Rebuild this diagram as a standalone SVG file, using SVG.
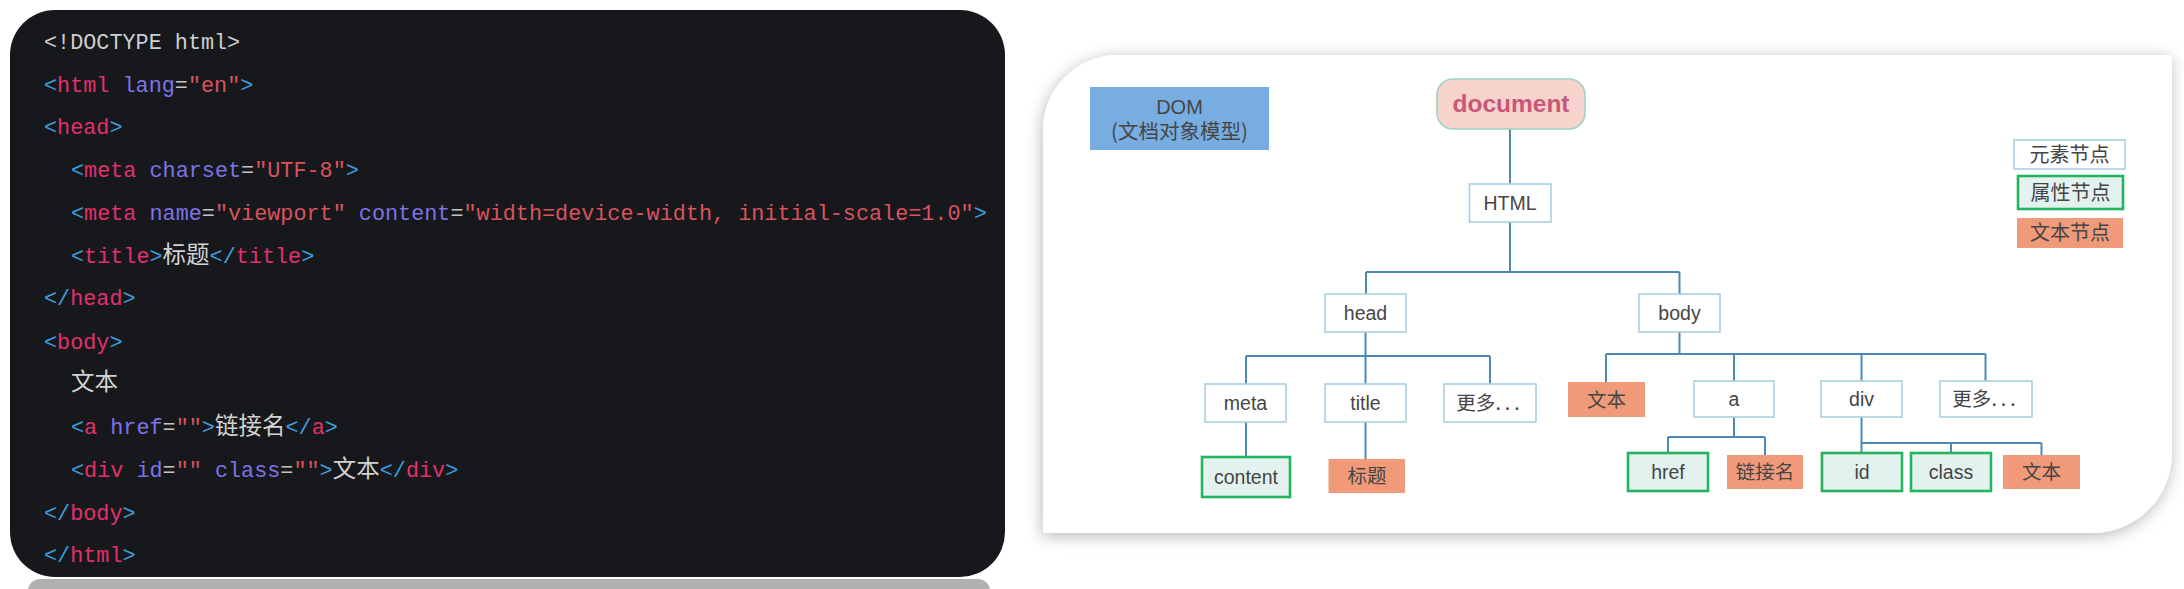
<svg xmlns="http://www.w3.org/2000/svg" width="2184" height="589" viewBox="0 0 2184 589">
<defs>
<style>
.code{font-family:"Liberation Mono","DejaVu Sans Mono",monospace;font-size:21.8px;fill:#cfcfcf}
.b{fill:#3c9ddd}.t{fill:#e2306c}.a{fill:#7c73e6}.e{fill:#c4c4c4}.s{fill:#d9535f}.g{fill:#cfcfcf}
.z{font-family:"Noto Sans CJK SC","Noto Sans",sans-serif;font-size:23.5px;fill:#d2d2d2}
.lbl{font-family:"Liberation Sans","Noto Sans CJK SC",sans-serif;font-size:19.5px;fill:#454545;text-anchor:middle}
.cjk{font-family:"Noto Sans CJK SC","Liberation Sans",sans-serif;font-size:19.5px;fill:#454545;text-anchor:middle}
.el{fill:#ffffff;stroke:#a9d0df;stroke-width:1.6}
.at{fill:#e4f2ef;stroke:#22b45e;stroke-width:2.6}
.tx{fill:#f19a7a}
.conn{fill:none;stroke:#4d88b5;stroke-width:2}
</style>
<filter id="sh" x="-5%" y="-10%" width="110%" height="125%">
<feDropShadow dx="-1" dy="3" stdDeviation="8" flood-color="#000" flood-opacity="0.28"/>
</filter>
</defs>
<rect width="2184" height="589" fill="#ffffff"/>

<g id="code-panel">
<rect x="28" y="579" width="962" height="24" rx="12" fill="#b0b0b0"/>
<rect x="10" y="10" width="995" height="567" rx="45" fill="#17181b"/>
<text class="code" x="44" y="49"><tspan class="g">&lt;!DOCTYPE html&gt;</tspan></text>
<text class="code" x="44" y="91.5"><tspan class="b">&lt;</tspan><tspan class="t">html</tspan><tspan class="a"> lang</tspan><tspan class="e">=</tspan><tspan class="s">"en"</tspan><tspan class="b">&gt;</tspan></text>
<text class="code" x="44" y="134"><tspan class="b">&lt;</tspan><tspan class="t">head</tspan><tspan class="b">&gt;</tspan></text>
<text class="code" x="71" y="177"><tspan class="b">&lt;</tspan><tspan class="t">meta</tspan><tspan class="a"> charset</tspan><tspan class="e">=</tspan><tspan class="s">"UTF-8"</tspan><tspan class="b">&gt;</tspan></text>
<text class="code" x="71" y="220"><tspan class="b">&lt;</tspan><tspan class="t">meta</tspan><tspan class="a"> name</tspan><tspan class="e">=</tspan><tspan class="s">"viewport"</tspan><tspan class="a"> content</tspan><tspan class="e">=</tspan><tspan class="s">"width=device-width, initial-scale=1.0"</tspan><tspan class="b">&gt;</tspan></text>
<text class="code" x="71" y="262.5"><tspan class="b">&lt;</tspan><tspan class="t">title</tspan><tspan class="b">&gt;</tspan><tspan class="z">标题</tspan><tspan class="b">&lt;/</tspan><tspan class="t">title</tspan><tspan class="b">&gt;</tspan></text>
<text class="code" x="44" y="305"><tspan class="b">&lt;/</tspan><tspan class="t">head</tspan><tspan class="b">&gt;</tspan></text>
<text class="code" x="44" y="349"><tspan class="b">&lt;</tspan><tspan class="t">body</tspan><tspan class="b">&gt;</tspan></text>
<text class="code" x="71" y="390"><tspan class="z">文本</tspan></text>
<text class="code" x="71" y="434"><tspan class="b">&lt;</tspan><tspan class="t">a</tspan><tspan class="a"> href</tspan><tspan class="e">=</tspan><tspan class="s">""</tspan><tspan class="b">&gt;</tspan><tspan class="z">链接名</tspan><tspan class="b">&lt;/</tspan><tspan class="t">a</tspan><tspan class="b">&gt;</tspan></text>
<text class="code" x="71" y="477"><tspan class="b">&lt;</tspan><tspan class="t">div</tspan><tspan class="a"> id</tspan><tspan class="e">=</tspan><tspan class="s">""</tspan><tspan class="a"> class</tspan><tspan class="e">=</tspan><tspan class="s">""</tspan><tspan class="b">&gt;</tspan><tspan class="z">文本</tspan><tspan class="b">&lt;/</tspan><tspan class="t">div</tspan><tspan class="b">&gt;</tspan></text>
<text class="code" x="44" y="520"><tspan class="b">&lt;/</tspan><tspan class="t">body</tspan><tspan class="b">&gt;</tspan></text>
<text class="code" x="44" y="562"><tspan class="b">&lt;/</tspan><tspan class="t">html</tspan><tspan class="b">&gt;</tspan></text>
</g>

<g id="dom-panel">
<path d="M1118,55 H2172 V453 A80,80 0 0 1 2092,533 H1043 V130 A75,75 0 0 1 1118,55 Z" fill="#ffffff" filter="url(#sh)"/>
</g>

<g id="connectors">
<path class="conn" d="M1510,129 V184 M1510,222 V272 M1366,272 H1679.5 M1366,272 V294 M1679.5,272 V294"/>
<path class="conn" d="M1365.5,332 V384 M1246,356 H1490 M1246,356 V384 M1490,356 V384 M1246,422 V457 M1365.5,422 V459"/>
<path class="conn" d="M1679.5,332 V354 M1606,354 H1985.5 M1606,354 V382 M1734,354 V381 M1861.5,354 V381 M1985.5,354 V381"/>
<path class="conn" d="M1734,417 V437 M1668,437 H1765 M1668,437 V453 M1765,437 V455"/>
<path class="conn" d="M1861.5,417 V453 M1861.5,443 H2041.5 M1951,443 V453 M2041.5,443 V455"/>
</g>

<g id="dom-label">
<rect x="1090" y="87" width="179" height="63" fill="#78ade2"/>
<text class="lbl" x="1179.5" y="114" style="font-size:20px">DOM</text>
<text class="cjk" x="1179.5" y="139" style="font-size:20.5px">(文档对象模型)</text>
</g>

<g id="node-document">
<rect x="1437" y="79" width="148" height="50" rx="16" fill="#f6d3cc" stroke="#9fd4c0" stroke-width="1.6"/>
<text x="1511" y="112" style="font-family:'Liberation Sans',sans-serif;font-size:24.5px;font-weight:bold;fill:#c9577a;text-anchor:middle">document</text>
</g>

<g id="node-html"><rect class="el" x="1469.5" y="184" width="81.5" height="38"/><text class="lbl" x="1510" y="210">HTML</text></g>
<g id="node-head"><rect class="el" x="1325" y="294" width="81" height="38"/><text class="lbl" x="1365.5" y="320">head</text></g>
<g id="node-body"><rect class="el" x="1639" y="294" width="81" height="38"/><text class="lbl" x="1679.5" y="320">body</text></g>
<g id="node-meta"><rect class="el" x="1205" y="384" width="81" height="38"/><text class="lbl" x="1245.5" y="410">meta</text></g>
<g id="node-title"><rect class="el" x="1325" y="384" width="81" height="38"/><text class="lbl" x="1365.5" y="410">title</text></g>
<g id="node-more-head"><rect class="el" x="1444" y="384" width="92" height="38"/><text class="cjk" x="1490" y="410">更多<tspan letter-spacing="4">...</tspan></text></g>
<g id="node-content"><rect class="at" x="1202" y="457" width="88" height="40"/><text class="lbl" x="1246" y="484">content</text></g>
<g id="node-title-text"><rect class="tx" x="1328.5" y="459" width="76.5" height="34"/><text class="cjk" x="1367" y="483">标题</text></g>

<g id="node-body-text"><rect class="tx" x="1568" y="382" width="77" height="35"/><text class="cjk" x="1606.5" y="407">文本</text></g>
<g id="node-a"><rect class="el" x="1694" y="381" width="80" height="36"/><text class="lbl" x="1734" y="406">a</text></g>
<g id="node-div"><rect class="el" x="1821" y="381" width="81" height="36"/><text class="lbl" x="1861.5" y="406">div</text></g>
<g id="node-more-body"><rect class="el" x="1940" y="381" width="92" height="36"/><text class="cjk" x="1986" y="406">更多<tspan letter-spacing="4">...</tspan></text></g>
<g id="node-href"><rect class="at" x="1628" y="453" width="80" height="38"/><text class="lbl" x="1668" y="479">href</text></g>
<g id="node-link-text"><rect class="tx" x="1727" y="455" width="76" height="34"/><text class="cjk" x="1765" y="479">链接名</text></g>
<g id="node-id"><rect class="at" x="1822" y="453" width="80" height="38"/><text class="lbl" x="1862" y="479">id</text></g>
<g id="node-class"><rect class="at" x="1911" y="453" width="80" height="38"/><text class="lbl" x="1951" y="479">class</text></g>
<g id="node-div-text"><rect class="tx" x="2003" y="455" width="77" height="34"/><text class="cjk" x="2041.5" y="479">文本</text></g>

<g id="legend">
<rect class="el" x="2014" y="140" width="111" height="29"/>
<text class="cjk" x="2069.5" y="162" style="font-size:20px">元素节点</text>
<rect class="at" x="2018" y="176" width="105" height="33"/>
<text class="cjk" x="2070.5" y="200" style="font-size:20px">属性节点</text>
<rect class="tx" x="2017" y="218" width="106" height="30"/>
<text class="cjk" x="2070" y="240" style="font-size:20px">文本节点</text>
</g>
</svg>
